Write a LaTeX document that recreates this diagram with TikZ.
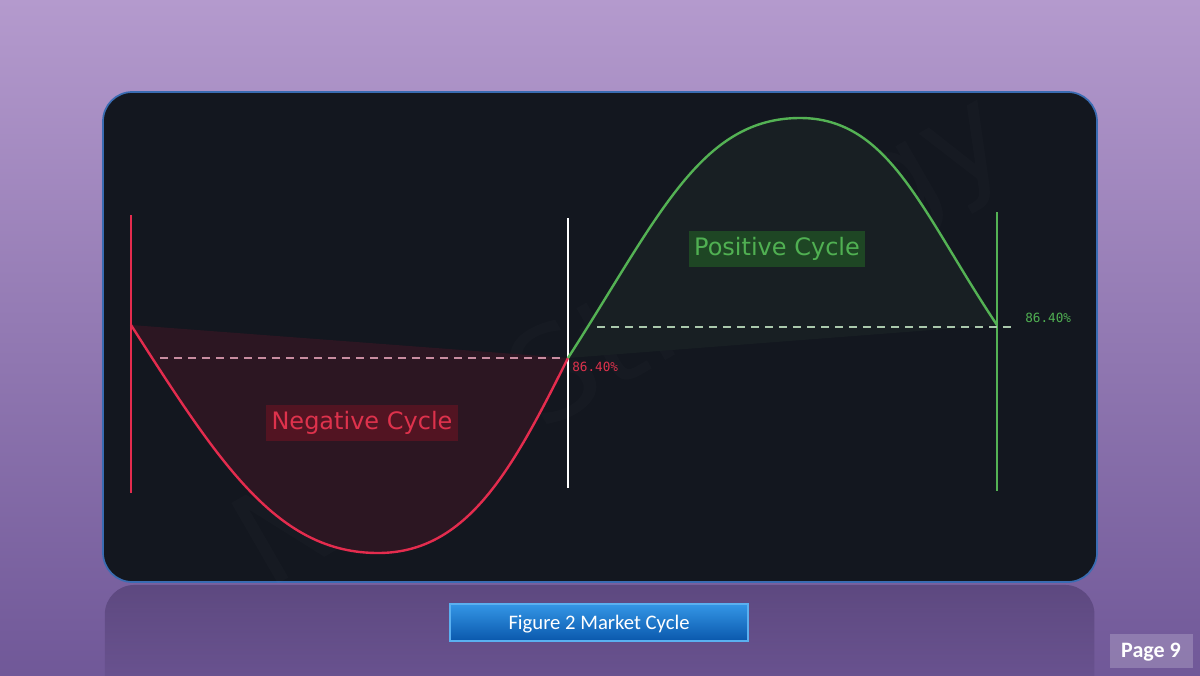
\documentclass[tikz,border=0pt]{standalone}
\usepackage{fontspec}
\setmainfont{DejaVu Sans}
\newfontfamily\calib{Carlito}
\newfontfamily\monof{DejaVu Sans Mono}
\usetikzlibrary{fadings}
\definecolor{bgTop}{RGB}{180,154,205}
\definecolor{bgMid}{RGB}{158,126,190}
\definecolor{bgBot}{RGB}{112,88,152}
\definecolor{panel}{RGB}{19,23,31}
\definecolor{panelborder}{RGB}{58,108,178}
\definecolor{redline}{RGB}{228,44,78}
\definecolor{redfill}{RGB}{44,22,34}
\definecolor{redbox}{RGB}{82,20,34}
\definecolor{redtext}{RGB}{222,50,76}
\definecolor{reddash}{RGB}{200,140,160}
\definecolor{greenline}{RGB}{84,178,84}
\definecolor{greenfill}{RGB}{24,31,35}
\definecolor{greenbox}{RGB}{30,70,36}
\definecolor{greentext}{RGB}{80,176,82}
\definecolor{greendash}{RGB}{170,200,172}
\definecolor{btnTop}{RGB}{52,150,230}
\definecolor{btnBot}{RGB}{10,88,172}
\definecolor{btnEdge}{RGB}{90,176,240}
\definecolor{reflect}{RGB}{60,44,90}
\tikzset{
  cycleline/.style={line width=1.8pt},
  vline/.style={line width=1.2pt},
  levelline/.style={line width=0.9pt, dash pattern=on 6pt off 4.5pt},
  pct/.style={font=\monof\fontsize{9.5}{11}\selectfont, inner sep=0pt},
  cyclelabel/.style={font=\fontsize{18}{21}\selectfont, inner xsep=4pt, inner ysep=5pt},
}
\begin{document}
\begin{tikzpicture}[x=0.75pt,y=-0.75pt]
\useasboundingbox (0,0) rectangle (1200,675);
% background
\shade[top color=bgTop, middle color=bgMid, bottom color=bgBot] (0,0) rectangle (1200,675);
% reflection under the panel
\fill[reflect, opacity=0.45, path fading=south, rounded corners=22pt] (105,585) rectangle (1095,720);
% panel
\draw[panelborder, line width=1.3pt, fill=panel, rounded corners=22pt] (103,92) rectangle (1097,582);
% watermark
\node[rotate=30, opacity=0.015, text=white, font=\fontsize{96}{96}\selectfont] (wm) at (625,345) {NDS Strategy};
% fills
\fill[redfill] (131,325) .. controls (221,466) and (278,553) .. (378,553)
  .. controls (468,553) and (513,468) .. (568,358) -- cycle;
\fill[greenfill] (568,358) .. controls (658,218) and (700,118) .. (800,118)
  .. controls (890,118) and (922,213) .. (997,325) -- cycle;
% vertical lines
\draw[vline, redline] (131,215) -- (131,493);
\draw[vline, white] (568,218) -- (568,488);
\draw[vline, greenline] (997,212) -- (997,491);
% level lines
\draw[levelline, reddash] (160,358) -- (566,358);
\draw[levelline, greendash] (597,327) -- (1015,327);
\node[pct, text=redtext, anchor=west] (pr) at (572,367) {86.40\%};
\node[pct, text=greentext, anchor=west] (pg) at (1025,318) {86.40\%};
% curves
\draw[cycleline, redline] (131,325) .. controls (221,466) and (278,553) .. (378,553)
  .. controls (468,553) and (513,468) .. (568,358);
\draw[cycleline, greenline] (568,358) .. controls (658,218) and (700,118) .. (800,118)
  .. controls (890,118) and (922,213) .. (997,325);
% labels
\node[cyclelabel, fill=redbox, text=redtext] (neg) at (362,423) {Negative Cycle};
\node[cyclelabel, fill=greenbox, text=greentext] (pos) at (777,249) {Positive Cycle};
% caption button
\shade[top color=btnTop, bottom color=btnBot, draw=btnEdge, line width=0.8pt] (450,604) rectangle (748,641);
\node[font=\calib\fontsize{15.5}{18}\selectfont, text=white] (cap) at (599,624) {Figure 2 Market Cycle};
% page number
\fill[white, opacity=0.2] (1110,634) rectangle (1193,668);
\node[font=\calib\bfseries\fontsize{16.5}{19}\selectfont, text=white] (pg9) at (1151,652) {Page 9};
\end{tikzpicture}
\end{document}
